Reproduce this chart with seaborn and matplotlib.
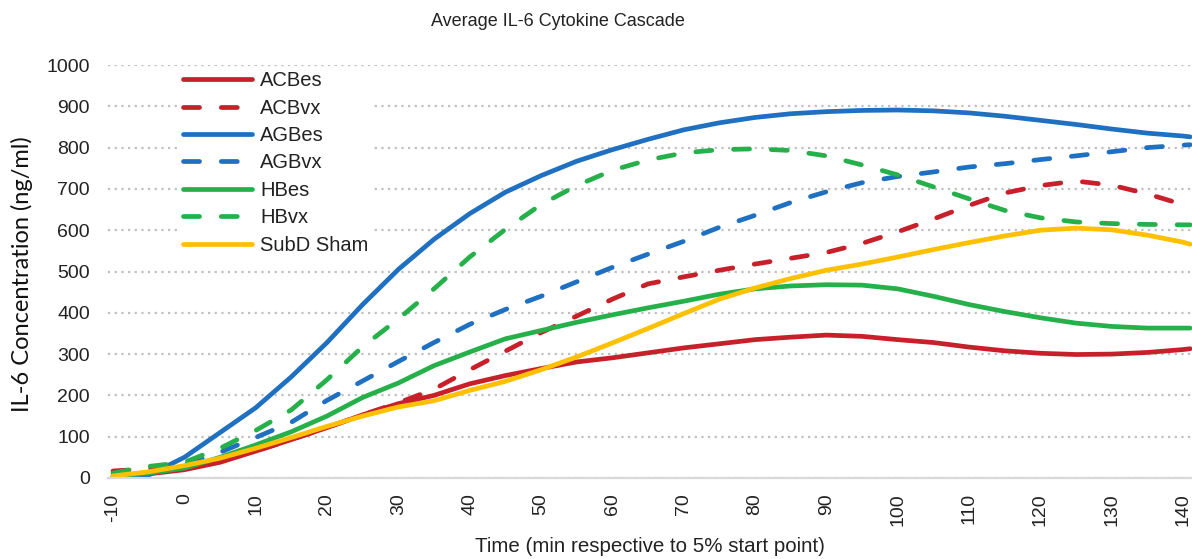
import matplotlib
matplotlib.use("Agg")
import matplotlib.pyplot as plt
import seaborn as sns
import pandas as pd

# ---- data ----
time_min = [-10, -5, 0, 5, 10, 15, 20, 25, 30, 35, 40, 45, 50, 55, 60, 65, 70, 75,
            80, 85, 90, 95, 100, 105, 110, 115, 120, 125, 130, 135, 140, 141]

ACBes = [5, 10, 20, 38, 65, 93, 122, 153, 180, 200, 228, 248, 265, 281, 291, 303,
         315, 325, 335, 341, 346, 343, 335, 328, 317, 308, 302, 299, 300, 304, 311, 313]
ACBvx = [17, 22, 28, 42, 65, 93, 122, 153, 182, 215, 262, 307, 352, 392, 433, 470,
         487, 503, 518, 532, 546, 568, 596, 627, 660, 690, 708, 719, 709, 688, 662, 654]
AGBes = [0, 7, 50, 110, 170, 245, 328, 420, 505, 578, 640, 692, 732, 767, 795, 820,
         843, 860, 873, 882, 887, 890, 891, 889, 884, 876, 866, 856, 845, 835, 828, 826]
AGBvx = [0, 10, 32, 62, 98, 135, 188, 235, 282, 328, 372, 408, 440, 475, 510, 542,
         573, 607, 636, 667, 693, 715, 730, 741, 753, 761, 771, 780, 790, 800, 806, 807]
HBes = [5, 12, 24, 50, 80, 112, 150, 195, 230, 272, 305, 337, 357, 377, 395, 412,
        428, 445, 458, 465, 468, 467, 458, 440, 420, 403, 388, 375, 367, 363, 363, 363]
HBvx = [12, 28, 38, 72, 115, 165, 238, 318, 385, 458, 535, 602, 662, 708, 745, 770,
        787, 795, 797, 793, 780, 758, 734, 705, 676, 648, 630, 620, 616, 614, 613, 613]
SubD_Sham = [5, 15, 30, 48, 72, 98, 125, 150, 172, 187, 212, 234, 262, 293, 327, 362,
             398, 433, 460, 483, 503, 518, 535, 553, 570, 586, 600, 605, 601, 588, 571, 566]

series_names = ["ACBes", "ACBvx", "AGBes", "AGBvx", "HBes", "HBvx", "SubD Sham"]
series_values = [ACBes, ACBvx, AGBes, AGBvx, HBes, HBvx, SubD_Sham]
series_colors = ["#C8202A", "#C8202A", "#1F70C1", "#1F70C1", "#25B04A", "#25B04A", "#FFC000"]
series_dashed = [False, True, False, True, False, True, False]

x_ticks = list(range(-10, 141, 10))
y_ticks = list(range(0, 1001, 100))

title = "Average IL-6 Cytokine Cascade"
x_label = "Time (min respective to 5% start point)"
y_label = "IL-6 Concentration (ng/ml)"

# ---- styling ----
sns.set_style("white")
plt.rcParams["font.family"] = ["Liberation Sans", "DejaVu Sans"]

W, H = 1192, 559
fig = plt.figure(figsize=(W / 100, H / 100), dpi=100)
ax = fig.add_axes([108 / W, 1 - 478 / H, (W - 108) / W, (478 - 65) / H])

for name, vals, col, dashed in zip(series_names, series_values, series_colors, series_dashed):
    df = pd.DataFrame({"time": time_min, "value": vals})
    sns.lineplot(data=df, x="time", y="value", color=col, linewidth=3.4,
                 label=name, ax=ax, solid_capstyle="round")
    ln = ax.get_lines()[-1]
    if dashed:
        ln.set_linestyle((0, (3.4, 4.6)))
        ln.set_dash_capstyle("round")

ax.set_xlim(-10.7, 141.26)
ax.set_ylim(0, 1000)
ax.set_xticks(x_ticks)
ax.set_yticks(y_ticks)
ax.set_xticklabels([str(t) for t in x_ticks], rotation=90, fontsize=14, color="#222222")
ax.set_yticklabels([str(t) for t in y_ticks], fontsize=14, color="#222222")
ax.tick_params(axis="both", length=0)
ax.tick_params(axis="y", pad=13)
ax.tick_params(axis="x", pad=11)

ax.yaxis.grid(True, linestyle=(0, (1, 2)), color="#BFBFBF", linewidth=1.6)
ax.xaxis.grid(False)
ax.set_axisbelow(True)
for s in ["top", "right", "left"]:
    ax.spines[s].set_visible(False)
ax.spines["bottom"].set_color("#D9D9D9")
ax.spines["bottom"].set_linewidth(1.6)

ax.set_xlabel("")
ax.set_ylabel("")
fig.text(650 / W, 1 - 547 / H, x_label, ha="center", va="center", fontsize=14.8, color="#222222")
fig.text(22 / W, 1 - 274 / H, y_label, ha="center", va="center", rotation=90,
         fontsize=17, color="#111111", family=["Lato", "DejaVu Sans"])
fig.text(558 / W, 1 - 22 / H, title, ha="center", va="center", fontsize=13, color="#222222")

leg = ax.legend(loc="upper left", bbox_to_anchor=(0.0655, 0.995), borderaxespad=0,
                frameon=True, facecolor="white", edgecolor="none", framealpha=1,
                fontsize=14.5, handlelength=3.43, handletextpad=0.4, labelspacing=0.42,
                borderpad=0.2)
for t in leg.get_texts():
    t.set_color("#222222")

fig.savefig("out.png", dpi=100, facecolor="white")
